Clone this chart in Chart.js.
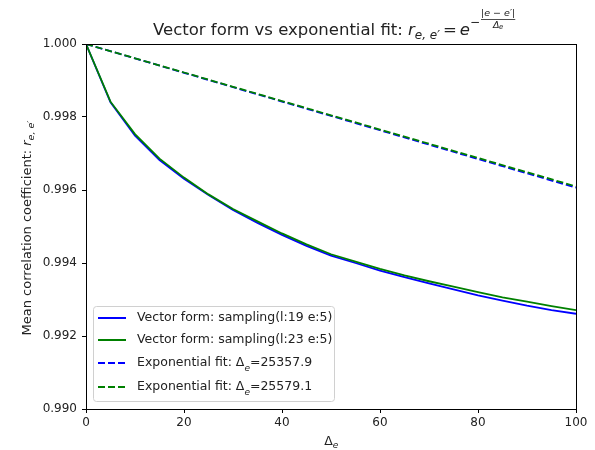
<!DOCTYPE html>
<html><head><meta charset="utf-8">
<script src="https://cdn.jsdelivr.net/npm/chart.js@4"></script>
<style>html,body{margin:0;padding:0;background:#fff}#wrap{width:595px;height:450px}</style>
</head><body><div id="wrap"><canvas id="c" width="595" height="450"></canvas></div>
<script>
// ---- data ----
const xValues = [0,5,10,15,20,25,30,35,40,45,50,55,60,65,70,75,80,85,90,95,100];
const vectorL19 = [1.00000,0.99840,0.99749,0.99682,0.99631,0.99586,0.99545,0.99510,0.99477,0.99447,0.99420,0.99400,0.99379,0.99361,0.99344,0.99328,0.99311,0.99297,0.99283,0.99271,0.99261];
const vectorL23 = [1.00000,0.99842,0.99753,0.99686,0.99634,0.99588,0.99548,0.99514,0.99481,0.99451,0.99424,0.99404,0.99384,0.99366,0.99350,0.99335,0.99320,0.99306,0.99294,0.99282,0.99271];
const fitX = [0,10,20,30,40,50,60,70,80,90,100];
const fitL19 = [1.000000,0.999606,0.999212,0.998818,0.998424,0.998030,0.997637,0.997243,0.996850,0.996457,0.996064];
const fitL23 = [1.000000,0.999609,0.999219,0.998828,0.998438,0.998047,0.997657,0.997267,0.996877,0.996488,0.996098];
const seriesLabels = ["Vector form: sampling(l:19 e:5)","Vector form: sampling(l:23 e:5)","Exponential fit: Δe=25357.9","Exponential fit: Δe=25579.1"];
const yTicks = [0.990,0.992,0.994,0.996,0.998,1.000];
const xTicks = [0,20,40,60,80,100];

const FONT = "'DejaVu Sans', sans-serif";
const TXT = '#222';
const pts = (xs, ys) => xs.map((x,i)=>({x:x,y:ys[i]}));

function seg(ctx, text, x, y, size, italic){
  ctx.font = (italic?'italic ':'') + size + 'px ' + FONT;
  ctx.fillText(text, x, y);
  return x + ctx.measureText(text).width;
}

const decor = {
  id:'decor',
  afterDatasetsDraw(chart){
    const ctx = chart.ctx, a = chart.chartArea;
    ctx.save();
    // frame
    ctx.strokeStyle = '#000'; ctx.lineWidth = 1;
    ctx.strokeRect(Math.round(a.left)+0.5, Math.round(a.top)+0.5, Math.round(a.right-a.left), Math.round(a.bottom-a.top));
    // legend
    const lx=93, ly=306, lw=241, lh=95;
    ctx.fillStyle='rgba(255,255,255,0.8)';
    ctx.strokeStyle='#d0d0d0'; ctx.lineWidth=1;
    ctx.beginPath();
    if (ctx.roundRect) ctx.roundRect(lx+0.5,ly+0.5,lw,lh,3); else ctx.rect(lx+0.5,ly+0.5,lw,lh);
    ctx.fill(); ctx.stroke();
    const rows=[318,340,363,387];
    chart.data.datasets.forEach((ds,i)=>{
      const y=rows[i];
      ctx.strokeStyle=ds.borderColor; ctx.lineWidth=2;
      ctx.setLineDash(ds.borderDash||[]);
      ctx.beginPath(); ctx.moveTo(98,y); ctx.lineTo(126,y); ctx.stroke();
      ctx.setLineDash([]);
      ctx.fillStyle=TXT; ctx.textBaseline='middle'; ctx.textAlign='left';
      const parts = ds.label.split('Δe');
      let x=137;
      if(parts.length===2){
        x=seg(ctx,parts[0]+'Δ',x,y,12.5,false);
        ctx.textBaseline='alphabetic';
        x=seg(ctx,'e',x,y+8,9,true);
        ctx.textBaseline='middle';
        seg(ctx,parts[1],x,y,12.5,false);
      } else seg(ctx,ds.label,x,y,12.5,false);
    });
    // title
    ctx.fillStyle=TXT; ctx.textBaseline='alphabetic'; ctx.textAlign='left';
    let x = 153, b = 35;
    x = seg(ctx,'Vector form vs exponential fit: ',x,b,16.5,false);
    x = seg(ctx,'r',x,b,16.5,true);
    x = seg(ctx,'e, e′',x,b+4,12,true) + 3;
    x = seg(ctx,'=',x,b,16.5,false) + 3;
    x = seg(ctx,'e',x,b,16.5,true);
    x = seg(ctx,'−',x,b-9,12,false) + 1;
    ctx.font='italic 9.5px '+FONT;
    const num='|e − e′|', nw=ctx.measureText(num).width;
    ctx.fillText(num,x,b-19);
    ctx.fillRect(x,b-16,nw,0.8);
    ctx.fillText('Δ',x+nw/2-5,b-7);
    ctx.font='italic 7px '+FONT; ctx.fillText('e',x+nw/2+1,b-6);
    // y label
    ctx.save();
    ctx.translate(31,228); ctx.rotate(-Math.PI/2);
    const ys=13;
    ctx.font=ys+'px '+FONT;
    const t1='Mean correlation coefficient: ';
    const w1=ctx.measureText(t1).width;
    ctx.font='italic '+ys+'px '+FONT; const wr=ctx.measureText('r').width;
    ctx.font='italic 9.5px '+FONT; const ws=ctx.measureText('e, e′').width;
    let sx=-(w1+wr+ws)/2;
    sx=seg(ctx,t1,sx,0,ys,false);
    sx=seg(ctx,'r',sx,0,ys,true);
    seg(ctx,'e, e′',sx,3,9.5,true);
    ctx.restore();
    // x label
    ctx.font='12.5px '+FONT; const wd=ctx.measureText('Δ').width;
    let xx=(a.left+a.right)/2 - (wd+5)/2;
    xx=seg(ctx,'Δ',xx,445,12.5,false);
    seg(ctx,'e',xx,448,9,true);
    ctx.restore();
  }
};

new Chart(document.getElementById('c'),{
  type:'line',
  data:{datasets:[
    {label:seriesLabels[0],data:pts(xValues,vectorL19),borderColor:'#0000ff',borderWidth:1.8,pointRadius:0,order:4,tension:0},
    {label:seriesLabels[1],data:pts(xValues,vectorL23),borderColor:'#008000',borderWidth:1.8,pointRadius:0,order:3,tension:0},
    {label:seriesLabels[2],data:pts(fitX,fitL19),borderColor:'#0000ff',borderWidth:1.8,borderDash:[7,3],pointRadius:0,order:2,tension:0},
    {label:seriesLabels[3],data:pts(fitX,fitL23),borderColor:'#008000',borderWidth:1.8,borderDash:[7,3],pointRadius:0,order:1,tension:0}
  ]},
  options:{
    responsive:false, animation:false, devicePixelRatio:1,
    layout:{padding:{top:44,right:19,left:0,bottom:0}},
    plugins:{legend:{display:false},title:{display:false},tooltip:{enabled:false}},
    scales:{
      x:{type:'linear',min:0,max:100,
        afterBuildTicks:s=>{s.ticks=xTicks.map(v=>({value:v}));},
        afterFit:s=>{s.height=41;},
        border:{display:false},
        grid:{drawOnChartArea:false,drawTicks:true,tickLength:4,color:'#000'},
        ticks:{font:{family:FONT,size:12},color:TXT,padding:3,maxRotation:0}},
      y:{type:'linear',min:0.990,max:1.000,
        afterBuildTicks:s=>{s.ticks=yTicks.map(v=>({value:v}));},
        afterFit:s=>{s.width=86;},
        border:{display:false},
        grid:{drawOnChartArea:false,drawTicks:true,tickLength:4,color:'#000'},
        ticks:{font:{family:FONT,size:12},color:TXT,padding:5,callback:v=>Number(v).toFixed(3)}}
    }
  },
  plugins:[decor]
});
</script></body></html>
